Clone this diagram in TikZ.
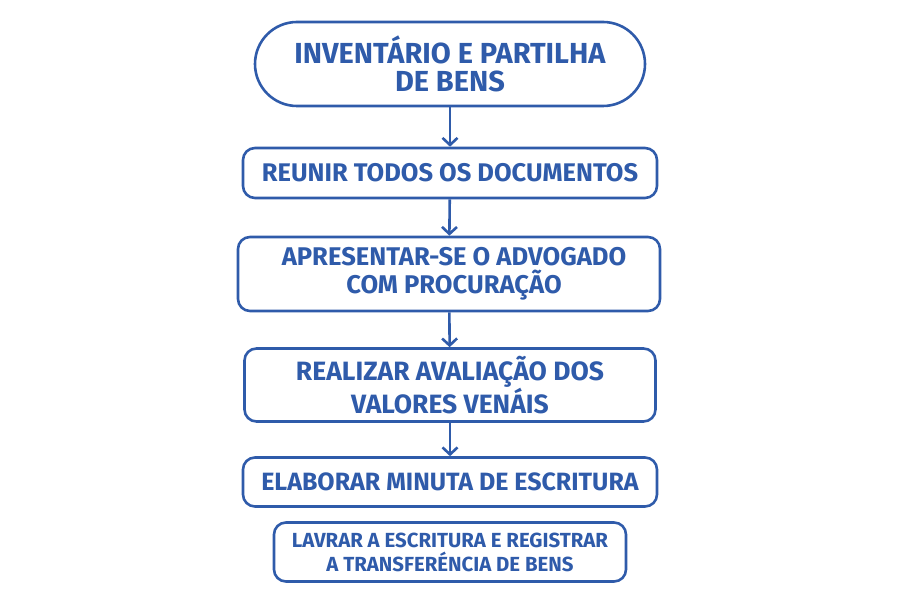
\documentclass[tikz,border=0pt]{standalone}
\usepackage{fontspec}
\setmainfont{Fira Sans}
\usetikzlibrary{arrows.meta}
\definecolor{fb}{HTML}{2F5BAA}
\begin{document}
\begin{tikzpicture}[x=1pt,y=-1pt,
  boxst/.style={draw=fb,line width=2.6pt,rounded corners=12pt,text=fb,align=center,font=\bfseries,inner sep=0pt},
  arr/.style={draw=fb,line width=2.6pt,-{Straight Barb[length=7pt,width=15pt,line width=2.6pt]}}]
\useasboundingbox (0,0) rectangle (900,601);
\node[boxst,rounded corners=42pt,minimum width=390pt,minimum height=84pt,font=\bfseries\fontsize{29}{28}\selectfont] (a) at (450,64) {INVENTÁRIO E PARTILHA\\DE BENS};
\node[boxst,minimum width=414pt,minimum height=50pt,font=\bfseries\fontsize{25.5}{28}\selectfont] (b) at (450,173) {REUNIR TODOS OS DOCUMENTOS};
\node[boxst,minimum width=422pt,minimum height=74pt] (c) at (449,274) {};
\node[text=fb,align=center,inner sep=0pt,font=\bfseries\fontsize{25.6}{28}\selectfont] (ct) at (454,274) {APRESENTAR-SE O ADVOGADO\\COM PROCURAÇÃO};
\node[boxst,minimum width=411pt,minimum height=73pt,font=\bfseries\fontsize{26.5}{28}\selectfont] (d) at (450,385) {REALIZAR AVALIAÇÃO DOS\\VALORES VENÁIS};
\node[boxst,minimum width=414pt,minimum height=49pt,font=\bfseries\fontsize{25}{28}\selectfont] (e) at (450,482) {ELABORAR MINUTA DE ESCRITURA};
\node[boxst,minimum width=352pt,minimum height=59pt,font=\bfseries\fontsize{20.4}{24}\selectfont] (f) at (450,552) {LAVRAR A ESCRITURA E REGISTRAR\\A TRANSFERÉNCIA DE BENS};
\draw[arr] (a) -- (b);
\draw[arr] (b) -- (c);
\draw[arr] (c) -- (d);
\draw[arr] (d) -- (e);
\end{tikzpicture}
\end{document}
